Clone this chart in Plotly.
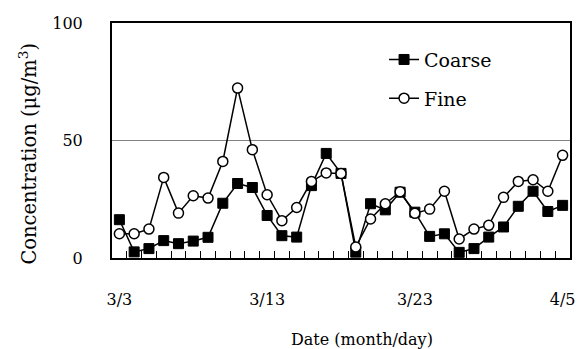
import plotly.graph_objects as go

days = list(range(31))
tick_idx = [0, 10, 20, 30]
tick_labels = ["3/3", "3/13", "3/23", "4/5"]
coarse = [16.3, 2.6, 4.0, 7.4, 6.1, 7.2, 8.8, 23.3, 31.7, 30.0, 18.1, 9.5, 8.9, 30.8, 44.5,
          36.0, 2.5, 23.1, 20.5, 28.0, 19.5, 9.2, 10.3, 2.4, 4.0, 8.9, 13.2, 22.0, 28.4, 19.8, 22.4]
fine = [10.3, 10.3, 12.3, 34.3, 19.1, 26.5, 25.5, 41.1, 72.3, 46.1, 26.9, 15.9, 21.5, 32.6, 36.2,
        36.0, 4.7, 16.6, 23.1, 28.2, 19.0, 20.8, 28.4, 8.1, 12.3, 13.9, 25.8, 32.6, 33.3, 28.4, 43.7]

FONT = "DejaVu Serif"

fig = go.Figure()
fig.add_trace(go.Scatter(
    x=days, y=coarse, name="Coarse", mode="lines+markers", legendgroup="c",
    line=dict(color="black", width=1.5),
    marker=dict(symbol="square", size=10, color="black", line=dict(color="black", width=1)),
))
fig.add_trace(go.Scatter(
    x=days, y=fine, name="Fine", mode="lines+markers", legendgroup="f",
    line=dict(color="black", width=1.5),
    marker=dict(symbol="circle", size=10, color="white", line=dict(color="black", width=1.5)),
))

fig.update_layout(
    width=583, height=349,
    margin=dict(l=112, r=8, t=23, b=91),
    plot_bgcolor="white", paper_bgcolor="white",
    font=dict(family=FONT, size=16, color="black"),
    showlegend=True,
    legend=dict(x=0.594, y=0.925, xanchor="left", yanchor="top",
                bgcolor="rgba(0,0,0,0)", font=dict(size=19),
                tracegroupgap=11),
    xaxis=dict(
        range=[-0.5, len(days) - 0.5],
        tickmode="array", tickvals=tick_idx, ticktext=tick_labels,
        ticks="", showgrid=False, zeroline=False,
        showline=True, linecolor="black", linewidth=2, mirror=True,
        ticklabelstandoff=26,
        minor=dict(tickmode="array", tickvals=[i + 0.5 for i in days[:-1]],
                   ticks="inside", ticklen=7, tickcolor="black", tickwidth=1, showgrid=False),
        tickfont=dict(size=16),
    ),
    yaxis=dict(
        range=[0, 100], tickvals=[0, 50, 100], ticks="",
        showgrid=True, gridcolor="#808080", gridwidth=1, zeroline=False,
        showline=True, linecolor="black", linewidth=2, mirror=True,
        ticklabelstandoff=24, tickfont=dict(size=16),
    ),
    annotations=[
        dict(text="Concentration (μg/m<sup>3</sup>)", xref="paper", yref="paper",
             x=-0.184, y=0.443, textangle=-90, showarrow=False,
             font=dict(size=19.5), xanchor="center", yanchor="middle"),
        dict(text="Date (month/day)", xref="paper", yref="paper",
             x=0.546, y=-0.345, showarrow=False,
             font=dict(size=16), xanchor="center", yanchor="middle"),
    ],
)

fig.write_html("out.html")
